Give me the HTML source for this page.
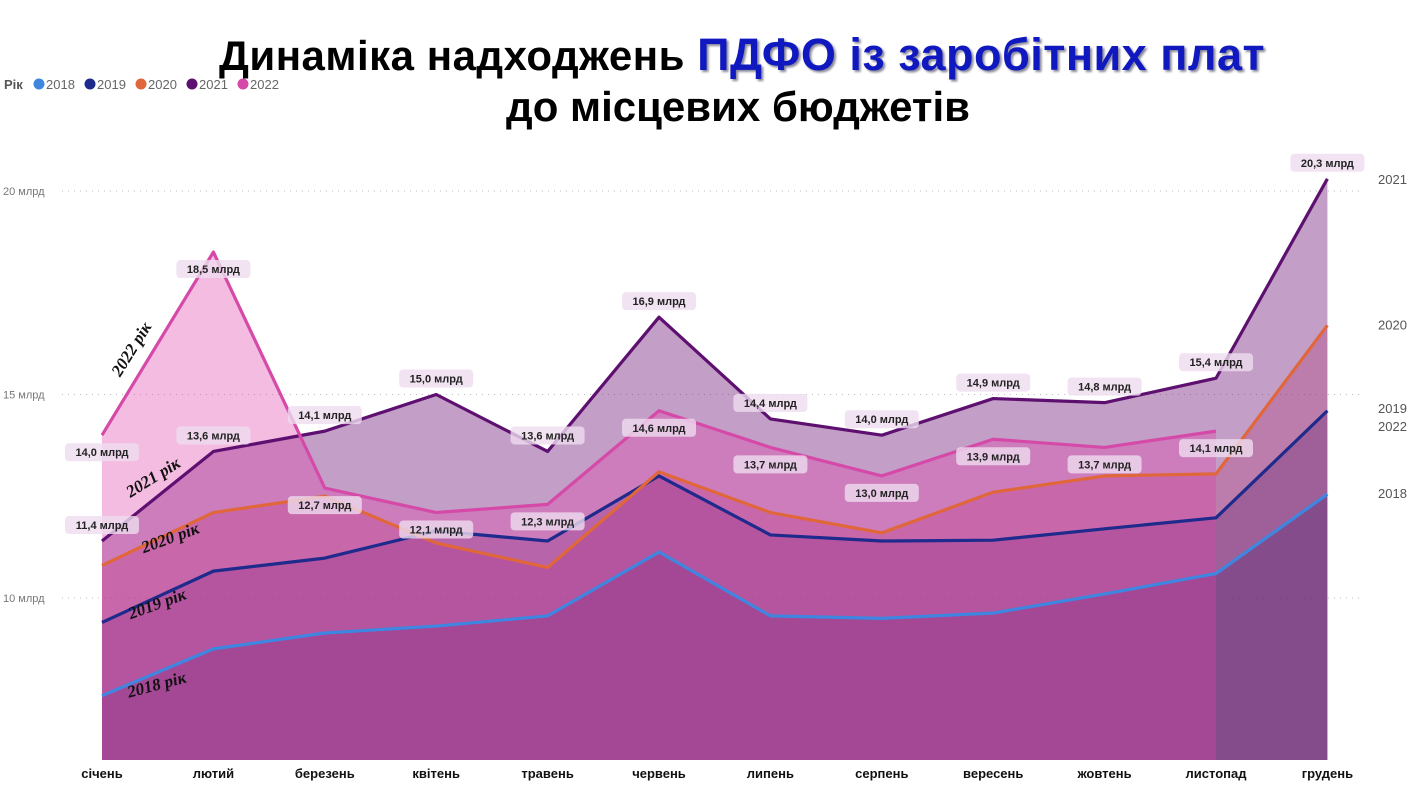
<!DOCTYPE html>
<html><head><meta charset="utf-8"><style>
body{margin:0;background:#fff;width:1410px;height:792px;overflow:hidden;font-family:"Liberation Sans",sans-serif}
svg{position:absolute;left:0;top:0}
</style></head><body>
<svg id="c" width="1410" height="792" xmlns="http://www.w3.org/2000/svg">
<g id="title">
<text x="742" y="70" text-anchor="middle" font-family="Liberation Sans, sans-serif" font-weight="bold" font-size="42" letter-spacing="0.5" fill="#000">Динаміка надходжень <tspan fill="#1018c0" style="text-shadow:2px 2px 2px #889" font-size="45">ПДФО із заробітних плат</tspan></text>
<text x="738" y="121" text-anchor="middle" font-family="Liberation Sans, sans-serif" font-weight="bold" font-size="42" fill="#000">до місцевих бюджетів</text>
</g>
<g id="legend" font-size="13" fill="#666">
<text x="4" y="89" font-weight="bold" fill="#555">Рік</text>
</g>
<g id="grid"></g><g id="areas"></g><g id="lines"></g><g id="labels"></g><g id="annot"></g>
</svg>
<script>
const months=["січень","лютий","березень","квітень","травень","червень","липень","серпень","вересень","жовтень","листопад","грудень"];
const years=["2018","2019","2020","2021","2022"];
const v2018=[7.6,8.75,9.14,9.31,9.56,11.13,9.56,9.5,9.63,10.1,10.6,12.55];
const v2019=[9.4,10.66,10.98,11.65,11.4,13.0,11.55,11.4,11.42,11.7,11.97,14.6];
const v2020=[10.8,12.1,12.5,11.35,10.75,13.1,12.1,11.6,12.6,13.0,13.05,16.7];
const v2021=[11.4,13.6,14.1,15.0,13.6,16.9,14.4,14.0,14.9,14.8,15.4,20.3];
const v2022=[14.0,18.5,12.7,12.1,12.3,14.6,13.7,13.0,13.9,13.7,14.1];
const yTicks=[10,15,20];
const NS="http://www.w3.org/2000/svg";
const X=i=>102+i*111.4;
const Y=v=>598-(v-10)*40.7;
const BASE=760;
function el(t,a,p){const e=document.createElementNS(NS,t);for(const k in a)e.setAttribute(k,a[k]);p.appendChild(e);return e;}
const G=id=>document.getElementById(id);
const lineCol={"2018":"#3f86e0","2019":"#1e2a8c","2020":"#e0673a","2021":"#5e1070","2022":"#d54aa8"};
let lx=34;
years.forEach(y=>{
 const d=el('circle',{cx:lx+5,cy:84,r:5.5,fill:lineCol[y]},G('legend'));
 
 
 const t=el('text',{x:lx+12,y:89},G('legend'));t.textContent=y;
 
 
 lx+=51;
});
yTicks.forEach(v=>{
 const l=el('line',{x1:62,x2:1362,y1:Y(v),y2:Y(v),stroke:"#bbb","stroke-dasharray":"1 5"},G('grid'));
 
 
 const t=el('text',{x:3,y:Y(v)+4,"font-size":11,fill:"#777"},G('grid'));t.textContent=v+" млрд";
 
 
});
months.forEach((m,i)=>{
 const t=el('text',{x:X(i),y:778,"text-anchor":"middle","font-size":13,"font-weight":"bold",fill:"#111"},G('grid'));t.textContent=m;
 
 
});
const series={"2018":v2018,"2019":v2019,"2020":v2020,"2021":v2021,"2022":v2022};
const fills=[["2021","#7b2a83",0.45],["2020","#b0306e",0.3],["2019","#5a1f70",0.3],["2018","#4a1e6a",0.3],["2022","#e040a8",0.35]];
fills.forEach(([y,c,o])=>{
 const d=series[y];
 let p="M"+X(0)+","+BASE;
 d.forEach((v,i)=>p+=" L"+X(i)+","+Y(v));
 p+=" L"+X(d.length-1)+","+BASE+" Z";
 const a=el('path',{d:p,fill:c,"fill-opacity":o},G('areas'));
 
 
});
years.forEach(y=>{
 const d=series[y];
 const pts=d.map((v,i)=>X(i)+","+Y(v)).join(" ");
 const l=el('polyline',{points:pts,fill:"none",stroke:lineCol[y],"stroke-width":3.2,"stroke-linejoin":"round"},G('lines'));
 
 
});
function label(i,v,dy,name){
 const g=el('g',{},G('labels'));
 
 
 const cx=X(i),cy=Y(v)+dy;
 el('rect',{x:cx-37,y:cy-9,width:74,height:18,rx:4,fill:"#eedcef","fill-opacity":0.8},g);
 const t=el('text',{x:cx,y:cy+4,"text-anchor":"middle","font-size":11,"font-weight":"bold",fill:"#222"},g);
 t.textContent=v.toFixed(1).replace('.',',')+" млрд";
}
v2021.forEach((v,i)=>label(i,v,-16,'label-2021-'+months[i]));
v2022.forEach((v,i)=>label(i,v,17,'label-2022-'+months[i]));
years.forEach(y=>{
 const d=series[y];const v=d[d.length-1];
 let yy=Y(v)+4; if(y==="2022")yy=431; if(y==="2019")yy=413; if(y==="2021")yy=184;
 const t=el('text',{x:1378,y:yy,"font-size":13,fill:"#555"},G('annot'));t.textContent=y;
 
 
});
const ann=[["2022 рік",136,352,-58],["2021 рік",156,482,-32],["2020 рік",172,543,-20],["2019 рік",159,609,-20],["2018 рік",158,690,-15]];
ann.forEach(([s,x,y,r])=>{
 const t=el('text',{x:x,y:y,"text-anchor":"middle","font-family":"Liberation Serif, serif","font-style":"italic","font-weight":"bold","font-size":17,fill:"#111",transform:`rotate(${r} ${x} ${y})`},G('annot'));
 t.textContent=s;
 
 
});
</script>
</body></html>
